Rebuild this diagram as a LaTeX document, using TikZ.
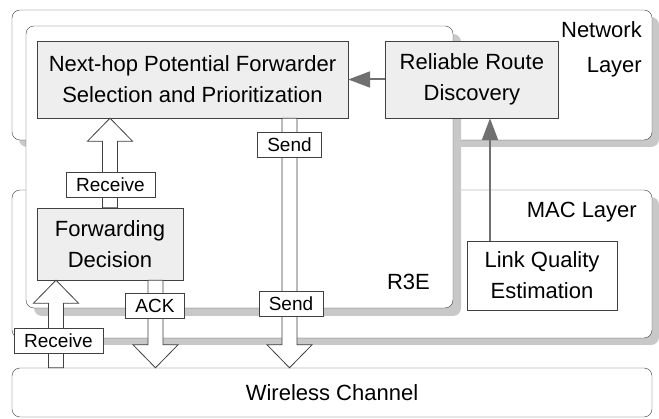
\documentclass[tikz,border=0pt]{standalone}
\usepackage{fontspec}
\setmainfont{Liberation Sans}
\usepackage{xcolor}
\usepackage{tikz}
\usetikzlibrary{shapes,shadows,calc}
\usetikzlibrary{positioning,arrows.meta}

\definecolor{boxgray}{HTML}{EEEEEE}
\definecolor{shadegray}{HTML}{C8C8C8}
\definecolor{linegray}{HTML}{404040}
\definecolor{feedgray}{HTML}{707070}

\newcommand{\fatarrow}[2]{%
	\coordinate (ft) at #1;
	\coordinate (fh) at #2;
	\coordinate (fb) at ($(fh)!23pt!(ft)$);
	\draw[fat] ($(ft)!7.5pt!90:(fh)$) -- ($(fb)!7.5pt!90:(fh)$) -- ($(fb)!22.5pt!90:(fh)$) -- (fh)
		-- ($(fb)!22.5pt!-90:(fh)$) -- ($(fb)!7.5pt!-90:(fh)$) -- ($(ft)!7.5pt!-90:(fh)$) -- cycle;}

\begin{document}
\begin{tikzpicture}[x=1pt, y=-1pt,
	layer/.style={draw=linegray, fill=white, rounded corners=8pt,
		drop shadow={shadow xshift=#1, shadow yshift=-#1, fill=shadegray, opacity=1}},
	layer/.default=7pt,
	module/.style={draw=linegray, fill=boxgray, align=center, inner sep=0pt,
		font=\fontsize{22}{31}\selectfont},
	tag/.style={draw=linegray, fill=white, inner xsep=10pt, inner ysep=0pt, minimum height=25pt,
		font=\fontsize{19}{22}\selectfont},
	fat/.style={draw=linegray, fill=white, line width=0.8pt},
	feed/.style={draw=feedgray, line width=2pt, -{Triangle[length=22pt,width=16pt]}},
	title/.style={inner sep=0pt, font=\fontsize{22}{35}\selectfont}]
	\useasboundingbox (0,0) rectangle (659,419);

	\draw[layer] (12,10) rectangle (652,140);
	\draw[layer] (12,190) rectangle (652,338);
	\draw[layer=8pt] (26,26) rectangle (453,308);

	\node[title, anchor=north east, align=right] (netl) at (642,21) {Network\\Layer};
	\node[title, anchor=base east] (macl) at (637,218) {MAC Layer};
	\node[title, anchor=base east] (r3e) at (430,290) {R3E};

	\node[draw=linegray, rounded corners=8pt, minimum width=640pt, minimum height=49pt,
		font=\fontsize{22}{31}\selectfont] (chan) at (332,392.5) {Wireless Channel};

	\node[module, minimum width=311pt, minimum height=77pt] (nhop) at (192.5,79.5)
		{Next-hop Potential Forwarder\\Selection and Prioritization};
	\node[module, minimum width=173pt, minimum height=77pt, right=37pt of nhop] (rrd)
		{Reliable Route\\Discovery};
	\node[module, minimum width=146pt, minimum height=72pt] (fwd) at (110,244)
		{Forwarding\\Decision};
	\node[module, fill=white, minimum width=150pt, minimum height=69pt] (lqe) at (542,275.5)
		{Link Quality\\Estimation};

	\coordinate (snd) at (289.5,0);
	\coordinate (ackx) at (155.5,0);
	\coordinate (rcv) at (56,0);

	\fatarrow{(fwd.north)}{(fwd.north |- nhop.south)}
	\fatarrow{(snd |- nhop.south)}{(snd |- chan.north)}
	\fatarrow{(ackx |- fwd.south)}{(ackx |- chan.north)}
	\fatarrow{(rcv |- chan.north)}{(rcv |- fwd.south)}

	\node[tag] (rx1) at (110.5,184.5) {Receive};
	\node[tag] (tx1) at (289.5,145)   {Send};
	\node[tag] (tx2) at (291,304)     {Send};
	\node[tag] (ack) at (155,306)     {ACK};
	\node[tag] (rx2) at (58.5,340.5)  {Receive};

	\draw[feed] (rrd) -- (nhop);
	\draw[feed] ([xshift=-52pt]lqe.north) -- ([xshift=-52pt]lqe.north |- rrd.south);
\end{tikzpicture}
\end{document}
